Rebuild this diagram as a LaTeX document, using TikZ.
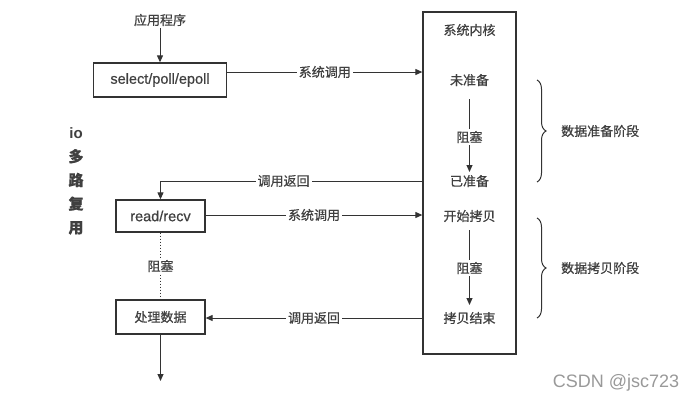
\documentclass[tikz,border=0pt]{standalone}
\usepackage{fontspec}
\setmainfont[FakeBold=0.6]{Noto Sans CJK SC}
\newfontfamily\latinfont[FakeBold=0.6]{Liberation Sans}
\newfontfamily\wmfont{Liberation Sans}
\newfontfamily\vlatin{Liberation Sans}
\usetikzlibrary{arrows.meta,decorations.pathreplacing}
\definecolor{ink}{HTML}{333333}
\definecolor{txt}{HTML}{404040}
\tikzset{
  box/.style={draw=ink,line width=1.3pt,minimum height=32pt,inner sep=0pt,font=\fontsize{13}{15}\selectfont,text=txt},
  lbl/.style={font=\fontsize{13}{15}\selectfont,text=txt,fill=white,inner sep=2pt},
  conn/.style={draw=ink,line width=1pt},
  arr/.style={conn,-{Triangle[length=7pt,width=6pt]}},
  brc/.style={draw=ink,line width=1pt,decorate,decoration={brace,amplitude=9pt}}
}
\begin{document}
\begin{tikzpicture}[x=1pt,y=-1pt]
\useasboundingbox[fill=white] (0,0) rectangle (694,405);
% kernel
\node[draw=ink,line width=1.3pt,minimum width=93pt,minimum height=342pt,inner sep=0pt] (k) at (469.5,183) {};
\node[lbl] (kt) at (469.5,30) {系统内核};
\node[lbl] (wz) at (469.5,80) {未准备};
\node[lbl] (zs1) at (469.5,137) {阻塞};
\node[lbl] (yz) at (469.5,181) {已准备};
\node[lbl] (ks) at (469.5,216) {开始拷贝};
\node[lbl] (zs2) at (469.5,268) {阻塞};
\node[lbl] (kj) at (469.5,318) {拷贝结束};
\draw[conn] (469.5,99) -- (zs1.north);
\draw[arr] (zs1.south) -- (469.5,172);
\draw[conn] (469.5,230) -- (zs2.north);
\draw[arr] (zs2.south) -- (469.5,305);
% left
\node[lbl] (app) at (160,20) {应用程序};
\node[box,minimum width=133pt,minimum height=34pt] (sel) at (160,80) {\latinfont\fontsize{14.5}{16}\selectfont select/poll/epoll};
\draw[arr] (app.south) -- (sel.north);
\node[box,minimum width=89pt] (rd) at (160.5,216) {\latinfont\fontsize{14.5}{16}\selectfont read/recv};
\node[box,minimum width=89pt,minimum height=34pt] (cl) at (160.5,317) {处理数据};
\coordinate (end) at (160.5,381);
\draw[arr] (cl.south) -- (end);
\draw[conn,dotted] (rd.south) -- node[lbl,pos=0.5] (zs3) {阻塞} (cl.north);
% connectors
\coordinate (k1) at (k.west |- 0,72);
\draw[arr] (sel.east |- 0,72) -- node[lbl,pos=0.5] (c1) {系统调用} (k1);
\coordinate (k2) at (k.west |- 0,181);
\coordinate (bend) at (160.5,181);
\draw[arr] (k2) -- node[lbl,pos=0.53] (c2) {调用返回} (bend) -- (rd.north);
\coordinate (k3) at (k.west |- 0,215);
\draw[arr] (rd.east |- 0,215) -- node[lbl,pos=0.5] (c3) {系统调用} (k3);
\coordinate (k4) at (k.west |- 0,318);
\draw[arr] (k4) -- node[lbl,pos=0.5] (c4) {调用返回} (cl.east |- 0,318);
% braces
\coordinate (b1t) at (537,80);
\coordinate (b1b) at (537,182);
\draw[brc] (b1t) -- (b1b);
\node[lbl,anchor=west] (p1) at (559,131) {数据准备阶段};
\coordinate (b2t) at (537,218);
\coordinate (b2b) at (537,318);
\draw[brc] (b2t) -- (b2b);
\node[lbl,anchor=west] (p2) at (559,268) {数据拷贝阶段};
% vertical label
\node[font=\fontsize{15}{23.7}\selectfont\bfseries,text=txt,align=center] (io) at (76,181) {{\vlatin\bfseries io}\\多\\路\\复\\用};
\node[font=\fontsize{18}{20}\selectfont,text=black!40] (wm) at (616,383) {\wmfont CSDN @jsc723};
\end{tikzpicture}
\end{document}
